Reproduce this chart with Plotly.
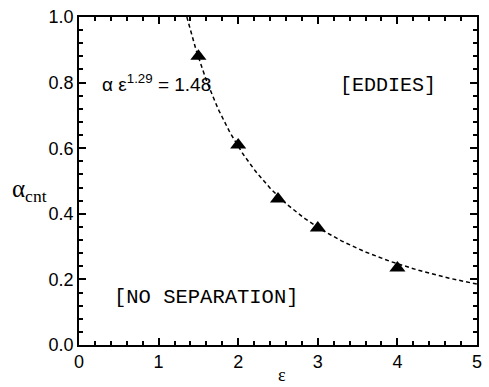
import numpy as np
import plotly.graph_objects as go

# Measured critical values
eps_data = [1.5, 2.0, 2.5, 3.0, 4.0]
alpha_data = [0.88, 0.61, 0.445, 0.357, 0.235]

# Fit: alpha * eps^1.29 = 1.48
fit_coef = 1.48
fit_exp = 1.29
eps_start = fit_coef ** (1.0 / fit_exp)
eps_fit = np.linspace(eps_start, 5.0, 200)
alpha_fit = fit_coef * eps_fit ** (-fit_exp)

fig = go.Figure()
fig.add_trace(go.Scatter(
    x=eps_fit, y=alpha_fit, mode="lines",
    line=dict(color="black", width=1.5, dash="4px,3px"),
    hoverinfo="skip", showlegend=False,
))
fig.add_trace(go.Scatter(
    x=eps_data, y=alpha_data, mode="markers",
    marker=dict(symbol="triangle-up", size=14, color="black"),
    showlegend=False,
))

axis_common = dict(
    showline=True, linecolor="black", linewidth=1.5, mirror="allticks",
    ticks="inside", ticklen=7, tickwidth=1.5, tickcolor="black",
    showgrid=False, zeroline=False,
    tickfont=dict(family="Liberation Sans, Arial", size=18, color="black"),
)
fig.update_xaxes(range=[0, 5], dtick=1, tickformat="d",
                 minor=dict(dtick=0.2, ticks="inside", ticklen=4, tickcolor="black"),
                 **axis_common)
fig.update_yaxes(range=[0, 1], dtick=0.2, tickformat=".1f",
                 minor=dict(dtick=0.04, ticks="inside", ticklen=4, tickcolor="black"),
                 **axis_common)

serif = "Liberation Serif, Times New Roman"
mono = "Liberation Mono, Courier New"
fig.add_annotation(
    x=0.26, y=0.8, xref="x", yref="y", xanchor="left", yanchor="middle", showarrow=False,
    text="α ε<sup>1.29</sup> = 1.48",
    font=dict(family="Liberation Sans, Arial", size=19, color="black"),
)
fig.add_annotation(
    x=3.25, y=0.79, xref="x", yref="y", xanchor="left", yanchor="middle", showarrow=False,
    text="[EDDIES]", font=dict(family=mono, size=20, color="black"),
)
fig.add_annotation(
    x=0.42, y=0.145, xref="x", yref="y", xanchor="left", yanchor="middle", showarrow=False,
    text="[NO SEPARATION]", font=dict(family=mono, size=20.5, color="black"),
)
# Axis labels
fig.add_annotation(
    x=-0.075, y=0.47, xref="paper", yref="paper", xanchor="right", yanchor="middle",
    showarrow=False, text="α<sub>cnt</sub>",
    font=dict(family=serif, size=25, color="black"),
)
fig.add_annotation(
    x=0.51, y=-0.09, xref="paper", yref="paper", xanchor="center", yanchor="middle",
    showarrow=False, text="ε", font=dict(family=serif, size=18, color="black"),
)

fig.update_layout(
    width=489, height=387,
    margin=dict(l=79, r=7, t=17, b=42),
    paper_bgcolor="white", plot_bgcolor="white",
)

fig.write_html("out.html")
